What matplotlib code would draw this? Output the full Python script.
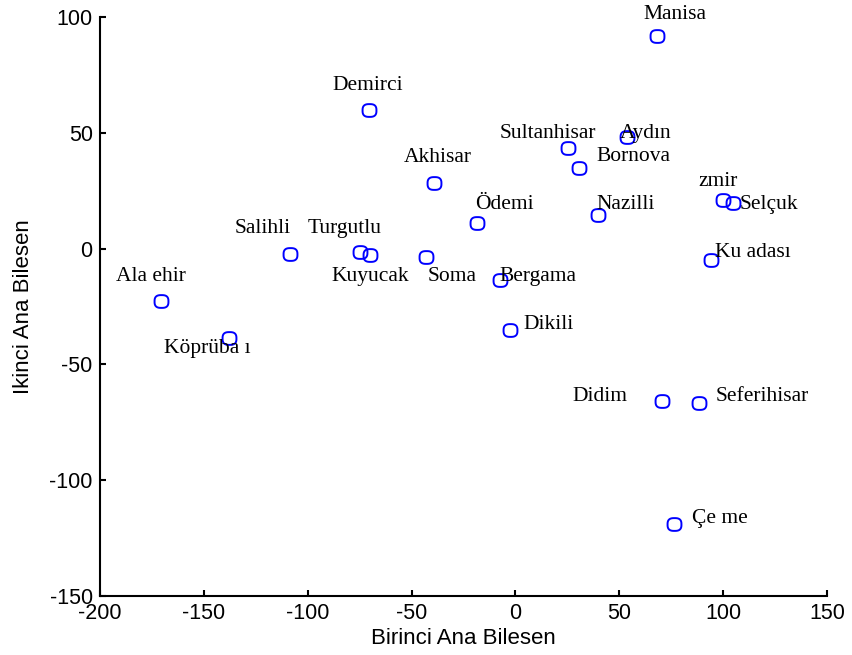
import numpy as np
import matplotlib.pyplot as plt
from matplotlib.path import Path

# ilceler ve iki ana bilesen skorlari
names = ['Manisa', 'Demirci', 'Sultanhisar', 'Aydın', 'Bornova', 'Akhisar',
         'Ödemi', 'Nazilli', 'zmir', 'Selçuk', 'Salihli', 'Turgutlu',
         'Kuyucak', 'Soma', 'Bergama', 'Ku adası', 'Ala ehir', 'Köprüba ı',
         'Dikili', 'Didim', 'Seferihisar', 'Çe me']
pc1 = [68.1, -70.5, 25.3, 53.7, 30.6, -39.2, -18.5, 39.7, 99.9, 104.7, -108.6,
       -74.9, -70.0, -43.1, -7.5, 94.1, -170.7, -138.0, -2.6, 70.5, 88.3, 76.3]
pc2 = [91.8, 59.9, 43.5, 48.3, 34.9, 28.4, 11.2, 14.7, 21.1, 19.8, -2.2,
       -1.3, -2.6, -3.4, -13.4, -4.7, -22.4, -38.4, -35.3, -65.9, -66.8, -119.0]

xticks = [-200, -150, -100, -50, 0, 50, 100, 150]
yticks = [-150, -100, -50, 0, 50, 100]

# etiket kaydirmalari (veri biriminde)
lab_dx = [-6.7, -17.4, -32.8, -3.4, 8.2, -14.5, -1.0, -0.9, -12.0, 2.9, -26.4,
          -25.0, -18.4, 1.0, 0.0, 1.9, -21.6, -31.2, 6.2, -43.3, 8.2, 8.7]
lab_dy = [9.5, 10.4, 6.1, 1.3, 4.8, 10.8, 7.8, 4.3, 7.8, -0.8, 10.8,
          9.9, -9.5, -8.7, 1.3, 3.0, 10.3, -4.7, 2.5, 2.1, 3.0, 2.6]

# MATLAB'daki gibi hafif kare gorunen daire isaretci
t = np.linspace(0, 2 * np.pi, 60)
mx = np.sign(np.cos(t)) * np.abs(np.cos(t)) ** 0.72
my = 0.92 * np.sign(np.sin(t)) * np.abs(np.sin(t)) ** 0.72
rmark = Path(np.column_stack([mx, my]), closed=True)

fig = plt.figure(figsize=(8.52, 6.55), dpi=100)
ax = fig.add_axes([0.117, 0.090, 0.854, 0.884])

ax.plot(pc1, pc2, linestyle='none', marker=rmark, markersize=10,
        markerfacecolor='none', markeredgecolor='#0000ff', markeredgewidth=1.4,
        clip_on=False)

for i in range(len(names)):
    ax.text(pc1[i] + lab_dx[i], pc2[i] + lab_dy[i], names[i],
            ha='left', va='center', fontsize=15.5, family='Liberation Serif')

ax.set_xlim(-200, 150)
ax.set_ylim(-150, 100)
ax.set_xticks(xticks)
ax.set_yticks(yticks)
ax.set_xticklabels([str(t) for t in xticks], family='Liberation Sans', fontsize=15.5)
ax.set_yticklabels([str(t) for t in yticks], family='Liberation Sans', fontsize=15.5)
ax.tick_params(direction='in', length=4, width=1.5, pad=5)

ax.spines['top'].set_visible(False)
ax.spines['right'].set_visible(False)
ax.spines['left'].set_linewidth(1.5)
ax.spines['bottom'].set_linewidth(1.5)

ax.set_xlabel('Birinci Ana Bilesen', family='Liberation Sans', fontsize=16, labelpad=3)
ax.set_ylabel('Ikinci Ana Bilesen', family='Liberation Sans', fontsize=16, labelpad=11)

plt.savefig('out.png', dpi=100)
